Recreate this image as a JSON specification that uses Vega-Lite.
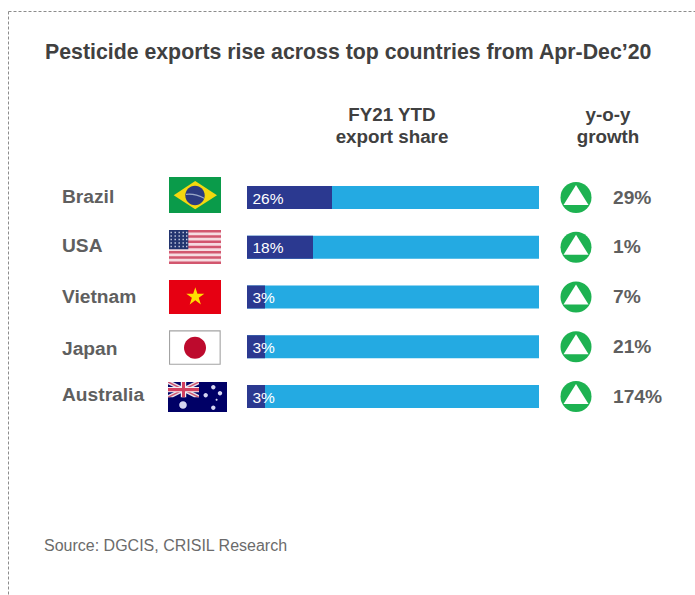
{
  "$schema": "https://vega.github.io/schema/vega-lite/v6.json",
  "width": 695,
  "height": 595,
  "autosize": "none",
  "padding": 0,
  "background": "white",
  "view": {"stroke": null},
  "title": {
    "text": "Pesticide exports rise across top countries from Apr-Dec’20",
    "anchor": "start",
    "frame": "group",
    "orient": "top",
    "offset": -63,
    "dx": 45,
    "font": "Liberation Sans",
    "fontSize": 21.3,
    "fontWeight": "bold",
    "color": "#404040"
  },
  "datasets": {
    "rows": [
      {"country": "Brazil", "share": 0.26, "total": 1, "growth": 0.29, "nameCol": "name", "growthCol": "growth", "flagCol": "flag", "arrowCol": "arrow"},
      {"country": "USA", "share": 0.18, "total": 1, "growth": 0.01, "nameCol": "name", "growthCol": "growth", "flagCol": "flag", "arrowCol": "arrow"},
      {"country": "Vietnam", "share": 0.03, "total": 1, "growth": 0.07, "nameCol": "name", "growthCol": "growth", "flagCol": "flag", "arrowCol": "arrow"},
      {"country": "Japan", "share": 0.03, "total": 1, "growth": 0.21, "nameCol": "name", "growthCol": "growth", "flagCol": "flag", "arrowCol": "arrow"},
      {"country": "Australia", "share": 0.03, "total": 1, "growth": 1.74, "nameCol": "name", "growthCol": "growth", "flagCol": "flag", "arrowCol": "arrow"}
    ],
    "flagParts": [
      {"country": "Brazil", "part": "br-field"},
      {"country": "Brazil", "part": "br-diamond"},
      {"country": "Brazil", "part": "br-disc"},
      {"country": "Brazil", "part": "br-band"},
      {"country": "USA", "part": "us-field"},
      {"country": "USA", "part": "us-stripes"},
      {"country": "USA", "part": "us-canton"},
      {"country": "USA", "part": "us-stars"},
      {"country": "Vietnam", "part": "vn-field"},
      {"country": "Vietnam", "part": "vn-star"},
      {"country": "Japan", "part": "jp-border"},
      {"country": "Japan", "part": "jp-field"},
      {"country": "Japan", "part": "jp-disc"},
      {"country": "Australia", "part": "au-field"},
      {"country": "Australia", "part": "au-saltire"},
      {"country": "Australia", "part": "au-saltire-red"},
      {"country": "Australia", "part": "au-cross"},
      {"country": "Australia", "part": "au-cross-red"},
      {"country": "Australia", "part": "au-stars"}
    ],
    "headers": [
      {"column": "share", "text": "FY21 YTD\nexport share", "line": "header"},
      {"column": "growth", "text": "y-o-y\ngrowth", "line": "header"}
    ],
    "footer": [{"column": "source", "text": "Source: DGCIS, CRISIL Research"}],
    "frame": [{"from": 0, "to": 1, "edge": "frame"}]
  },
  "layer": [
    {
      "data": {"name": "frame"},
      "mark": {"type": "rule", "stroke": "#8c8c8c", "strokeWidth": 1, "strokeDash": [3, 2]},
      "encoding": {
        "x": {"field": "from", "type": "quantitative", "axis": null, "scale": {"domain": [0, 1], "range": [8.5, 695], "zero": false, "nice": false}},
        "x2": {"field": "to"},
        "y": {"field": "edge", "type": "nominal", "axis": null, "scale": {"type": "point", "domain": ["frame"], "range": [11.5, 11.5]}}
      }
    },
    {
      "data": {"name": "frame"},
      "mark": {"type": "rule", "stroke": "#8c8c8c", "strokeWidth": 1, "strokeDash": [3, 2]},
      "encoding": {
        "y": {"field": "from", "type": "quantitative", "axis": null, "scale": {"domain": [0, 1], "range": [11.5, 595], "zero": false, "nice": false}},
        "y2": {"field": "to"},
        "x": {"field": "edge", "type": "nominal", "axis": null, "scale": {"type": "point", "domain": ["frame"], "range": [8.5, 8.5]}}
      }
    },
    {
      "data": {"name": "headers"},
      "mark": {"type": "text", "font": "Liberation Sans", "fontSize": 18.8, "fontWeight": "bold", "color": "#404040", "align": "center", "baseline": "top", "lineBreak": "\n", "lineHeight": 22},
      "encoding": {
        "x": {"field": "column", "type": "nominal", "axis": null, "scale": {"type": "point", "domain": ["share", "growth"], "range": [392, 608], "padding": 0}},
        "y": {"field": "line", "type": "nominal", "axis": null, "scale": {"type": "point", "domain": ["header"], "range": [106, 106]}},
        "text": {"field": "text"}
      }
    },
    {
      "data": {"name": "footer"},
      "mark": {"type": "text", "font": "Liberation Sans", "fontSize": 16, "color": "#6b6b6b", "align": "left", "baseline": "middle"},
      "encoding": {
        "x": {"field": "column", "type": "nominal", "axis": null, "scale": {"type": "point", "domain": ["source"], "range": [44, 44]}},
        "y": {"field": "column", "type": "nominal", "axis": null, "scale": {"type": "point", "domain": ["source"], "range": [545.5, 545.5]}},
        "text": {"field": "text"}
      }
    },
    {
      "data": {"name": "rows"},
      "mark": {"type": "text", "font": "Liberation Sans", "fontSize": 19.2, "fontWeight": "bold", "color": "#5f5f5f", "align": "left", "baseline": "middle", "dy": {"expr": "datum.country === 'Japan' ? 2.5 : datum.country === 'Australia' ? -1.5 : datum.country === 'Vietnam' ? 0 : -1"}},
      "encoding": {
        "x": {"field": "nameCol", "type": "nominal", "axis": null, "scale": {"type": "point", "domain": ["name", "growth"], "range": [62, 613], "padding": 0}},
        "y": {"field": "country", "type": "nominal", "axis": null, "sort": null, "scale": {"type": "point", "domain": ["Brazil", "USA", "Vietnam", "Japan", "Australia"], "range": [197.5, 396.5], "padding": 0}},
        "text": {"field": "country"}
      }
    },
    {
      "data": {"name": "flagParts"},
      "mark": {"type": "point", "filled": true, "size": 4, "opacity": 1, "strokeWidth": 0},
      "encoding": {
        "x": {"datum": "flag", "type": "nominal", "axis": null, "scale": {"type": "point", "domain": ["flag", "arrow"], "range": [195, 576], "padding": 0}},
        "y": {"field": "country", "type": "nominal", "axis": null, "sort": null, "scale": {"type": "point", "domain": ["Brazil", "USA", "Vietnam", "Japan", "Australia"], "range": [197.5, 396.5], "padding": 0}},
        "fill": {
          "field": "part",
          "type": "nominal",
          "legend": null,
          "scale": {
            "domain": ["br-field", "br-diamond", "br-disc", "br-band", "us-field", "us-stripes", "us-canton", "us-stars", "vn-field", "vn-star", "jp-border", "jp-field", "jp-disc", "au-field", "au-saltire", "au-saltire-red", "au-cross", "au-cross-red", "au-stars"],
            "range": ["#0a9b4a", "#f4d80f", "#2c3b80", "#9aa8c8", "#f6dbe0", "#d2566e", "#23356f", "#c9cee3", "#e60012", "#ffdf00", "#a3a3a3", "#ffffff", "#bd0a2d", "#000066", "#e6e0ea", "#cf5670", "#f4eef2", "#d2405f", "#d6d6f2"]
          }
        },
        "shape": {
          "field": "part",
          "type": "nominal",
          "legend": null,
          "scale": {
            "domain": ["br-field", "br-diamond", "br-disc", "br-band", "us-field", "us-stripes", "us-canton", "us-stars", "vn-field", "vn-star", "jp-border", "jp-field", "jp-disc", "au-field", "au-saltire", "au-saltire-red", "au-cross", "au-cross-red", "au-stars"],
            "range": [
              "M-26,-20.5L26,-20.5L26,15.5L-26,15.5Z",
              "M-21.3,-2.3L0.2,-16.5L22,-2.3L0.2,11.8Z",
              "M-9.7,-2a9.7,9.7 0 1,0 19.4,0a9.7,9.7 0 1,0 -19.4,0Z",
              "M-9,-3.8Q0,-5 9,0L9,1.2Q0,-3.4 -9,-2.6Z",
              "M-26,-17.25L26,-17.25L26,16.75L-26,16.75Z",
              "M-26,-17.25L26,-17.25L26,-14.63L-26,-14.63ZM-26,-12.02L26,-12.02L26,-9.4L-26,-9.4ZM-26,-6.79L26,-6.79L26,-4.17L-26,-4.17ZM-26,-1.56L26,-1.56L26,1.06L-26,1.06ZM-26,3.67L26,3.67L26,6.29L-26,6.29ZM-26,8.9L26,8.9L26,11.52L-26,11.52ZM-26,14.13L26,14.13L26,16.75L-26,16.75Z",
              "M-26,-17.25L-6.7,-17.25L-6.7,2L-26,2Z",
              "M-24.5,-15.5h1.4v1.4h-1.4zM-20.5,-15.5h1.4v1.4h-1.4zM-16.5,-15.5h1.4v1.4h-1.4zM-12.5,-15.5h1.4v1.4h-1.4zM-9,-15.5h1.4v1.4h-1.4zM-24.5,-12h1.4v1.4h-1.4zM-20.5,-12h1.4v1.4h-1.4zM-16.5,-12h1.4v1.4h-1.4zM-12.5,-12h1.4v1.4h-1.4zM-9,-12h1.4v1.4h-1.4zM-24.5,-8.5h1.4v1.4h-1.4zM-20.5,-8.5h1.4v1.4h-1.4zM-16.5,-8.5h1.4v1.4h-1.4zM-12.5,-8.5h1.4v1.4h-1.4zM-9,-8.5h1.4v1.4h-1.4zM-24.5,-5h1.4v1.4h-1.4zM-20.5,-5h1.4v1.4h-1.4zM-16.5,-5h1.4v1.4h-1.4zM-12.5,-5h1.4v1.4h-1.4zM-9,-5h1.4v1.4h-1.4zM-24.5,-1.5h1.4v1.4h-1.4zM-20.5,-1.5h1.4v1.4h-1.4zM-16.5,-1.5h1.4v1.4h-1.4zM-12.5,-1.5h1.4v1.4h-1.4zM-9,-1.5h1.4v1.4h-1.4z",
              "M-26,-17L26,-17L26,17L-26,17Z",
              "M0.3,-9.8L2.43,-3.24L9.33,-3.24L3.75,0.82L5.88,7.39L0.3,3.33L-5.28,7.39L-3.15,0.82L-8.73,-3.24L-1.83,-3.24Z",
              "M-26,-16.5L25.7,-16.5L25.7,18L-26,18Z",
              "M-24.9,-15.3L24.6,-15.3L24.6,16.9L-24.9,16.9Z",
              "M-11,0.9a11,11 0 1,0 22,0a11,11 0 1,0 -22,0Z",
              "M-27,-14.5L32,-14.5L32,15.5L-27,15.5Z",
              "M-27,-14.5L-22,-14.5L4,-1.5L4,0.8L-1,0.8L-27,-12.2ZM4,-14.5L4,-12.2L-22,0.8L-27,0.8L-27,-1.5L-1,-14.5Z",
              "M-27,-14.5L-25.2,-14.5L4,0L4,0.8L2.2,0.8L-27,-13.7ZM4,-14.5L4,-13.7L-25.2,0.8L-27,0.8L-27,0L2.2,-14.5Z",
              "M-14.2,-14.5L-8.8,-14.5L-8.8,-9.5L4,-9.5L4,-4.2L-8.8,-4.2L-8.8,0.8L-14.2,0.8L-14.2,-4.2L-27,-4.2L-27,-9.5L-14.2,-9.5Z",
              "M-13,-14.5L-10,-14.5L-10,-8.4L4,-8.4L4,-5.3L-10,-5.3L-10,0.8L-13,0.8L-13,-5.3L-27,-5.3L-27,-8.4L-13,-8.4Z",
              "M-15.8,8.5a3.8,3.8 0 1,0 7.6,0a3.8,3.8 0 1,0 -7.6,0ZM16.1,-9.2a2.2,2.2 0 1,0 4.4,0a2.2,2.2 0 1,0 -4.4,0ZM8.5,-1.2a2.2,2.2 0 1,0 4.4,0a2.2,2.2 0 1,0 -4.4,0ZM22.8,-3.2a2.2,2.2 0 1,0 4.4,0a2.2,2.2 0 1,0 -4.4,0ZM16.1,11.2a2.2,2.2 0 1,0 4.4,0a2.2,2.2 0 1,0 -4.4,0ZM20.6,3.2a1,1 0 1,0 2,0a1,1 0 1,0 -2,0Z"
            ]
          }
        }
      }
    },
    {
      "data": {"name": "rows"},
      "mark": {"type": "bar", "color": "#24aae2", "size": 23},
      "encoding": {
        "x": {"field": "total", "type": "quantitative", "stack": null, "axis": null, "scale": {"domain": [0, 0.03, 0.18, 0.26, 1], "range": [247, 265, 313, 332, 539], "zero": false, "nice": false}},
        "y": {"field": "country", "type": "nominal", "axis": null, "sort": null, "scale": {"type": "point", "domain": ["Brazil", "USA", "Vietnam", "Japan", "Australia"], "range": [197.5, 396.5], "padding": 0}}
      }
    },
    {
      "data": {"name": "rows"},
      "mark": {"type": "bar", "color": "#2b3990", "size": 23},
      "encoding": {
        "x": {"field": "share", "type": "quantitative", "stack": null, "axis": null, "scale": {"domain": [0, 0.03, 0.18, 0.26, 1], "range": [247, 265, 313, 332, 539], "zero": false, "nice": false}},
        "y": {"field": "country", "type": "nominal", "axis": null, "sort": null, "scale": {"type": "point", "domain": ["Brazil", "USA", "Vietnam", "Japan", "Australia"], "range": [197.5, 396.5], "padding": 0}}
      }
    },
    {
      "data": {"name": "rows"},
      "mark": {"type": "text", "font": "Liberation Sans", "fontSize": 15.5, "color": "#ffffff", "align": "left", "baseline": "middle", "dx": 5.5, "dy": 1},
      "encoding": {
        "x": {"datum": 0, "type": "quantitative", "axis": null, "scale": {"domain": [0, 0.03, 0.18, 0.26, 1], "range": [247, 265, 313, 332, 539], "zero": false, "nice": false}},
        "y": {"field": "country", "type": "nominal", "axis": null, "sort": null, "scale": {"type": "point", "domain": ["Brazil", "USA", "Vietnam", "Japan", "Australia"], "range": [197.5, 396.5], "padding": 0}},
        "text": {"field": "share", "type": "quantitative", "format": ".0%"}
      }
    },
    {
      "data": {"name": "rows"},
      "mark": {"type": "point", "shape": "circle", "filled": true, "size": 961, "opacity": 1, "color": "#1db251", "strokeWidth": 0},
      "encoding": {
        "x": {"field": "arrowCol", "type": "nominal", "axis": null, "scale": {"type": "point", "domain": ["flag", "arrow"], "range": [195, 576], "padding": 0}},
        "y": {"field": "country", "type": "nominal", "axis": null, "sort": null, "scale": {"type": "point", "domain": ["Brazil", "USA", "Vietnam", "Japan", "Australia"], "range": [197.5, 396.5], "padding": 0}}
      }
    },
    {
      "data": {"name": "rows"},
      "mark": {"type": "point", "shape": "M0,-12.5L12.5,7.5L-12.5,7.5Z", "filled": true, "size": 4, "opacity": 1, "color": "#ffffff", "strokeWidth": 0},
      "encoding": {
        "x": {"field": "arrowCol", "type": "nominal", "axis": null, "scale": {"type": "point", "domain": ["flag", "arrow"], "range": [195, 576], "padding": 0}},
        "y": {"field": "country", "type": "nominal", "axis": null, "sort": null, "scale": {"type": "point", "domain": ["Brazil", "USA", "Vietnam", "Japan", "Australia"], "range": [197.5, 396.5], "padding": 0}}
      }
    },
    {
      "data": {"name": "rows"},
      "mark": {"type": "text", "font": "Liberation Sans", "fontSize": 19.2, "fontWeight": "bold", "color": "#5f5f5f", "align": "left", "baseline": "middle"},
      "encoding": {
        "x": {"field": "growthCol", "type": "nominal", "axis": null, "scale": {"type": "point", "domain": ["name", "growth"], "range": [62, 613], "padding": 0}},
        "y": {"field": "country", "type": "nominal", "axis": null, "sort": null, "scale": {"type": "point", "domain": ["Brazil", "USA", "Vietnam", "Japan", "Australia"], "range": [197.5, 396.5], "padding": 0}},
        "text": {"field": "growth", "type": "quantitative", "format": ".0%"}
      }
    }
  ],
  "resolve": {
    "scale": {"x": "independent", "y": "independent", "fill": "independent", "shape": "independent"}
  }
}
